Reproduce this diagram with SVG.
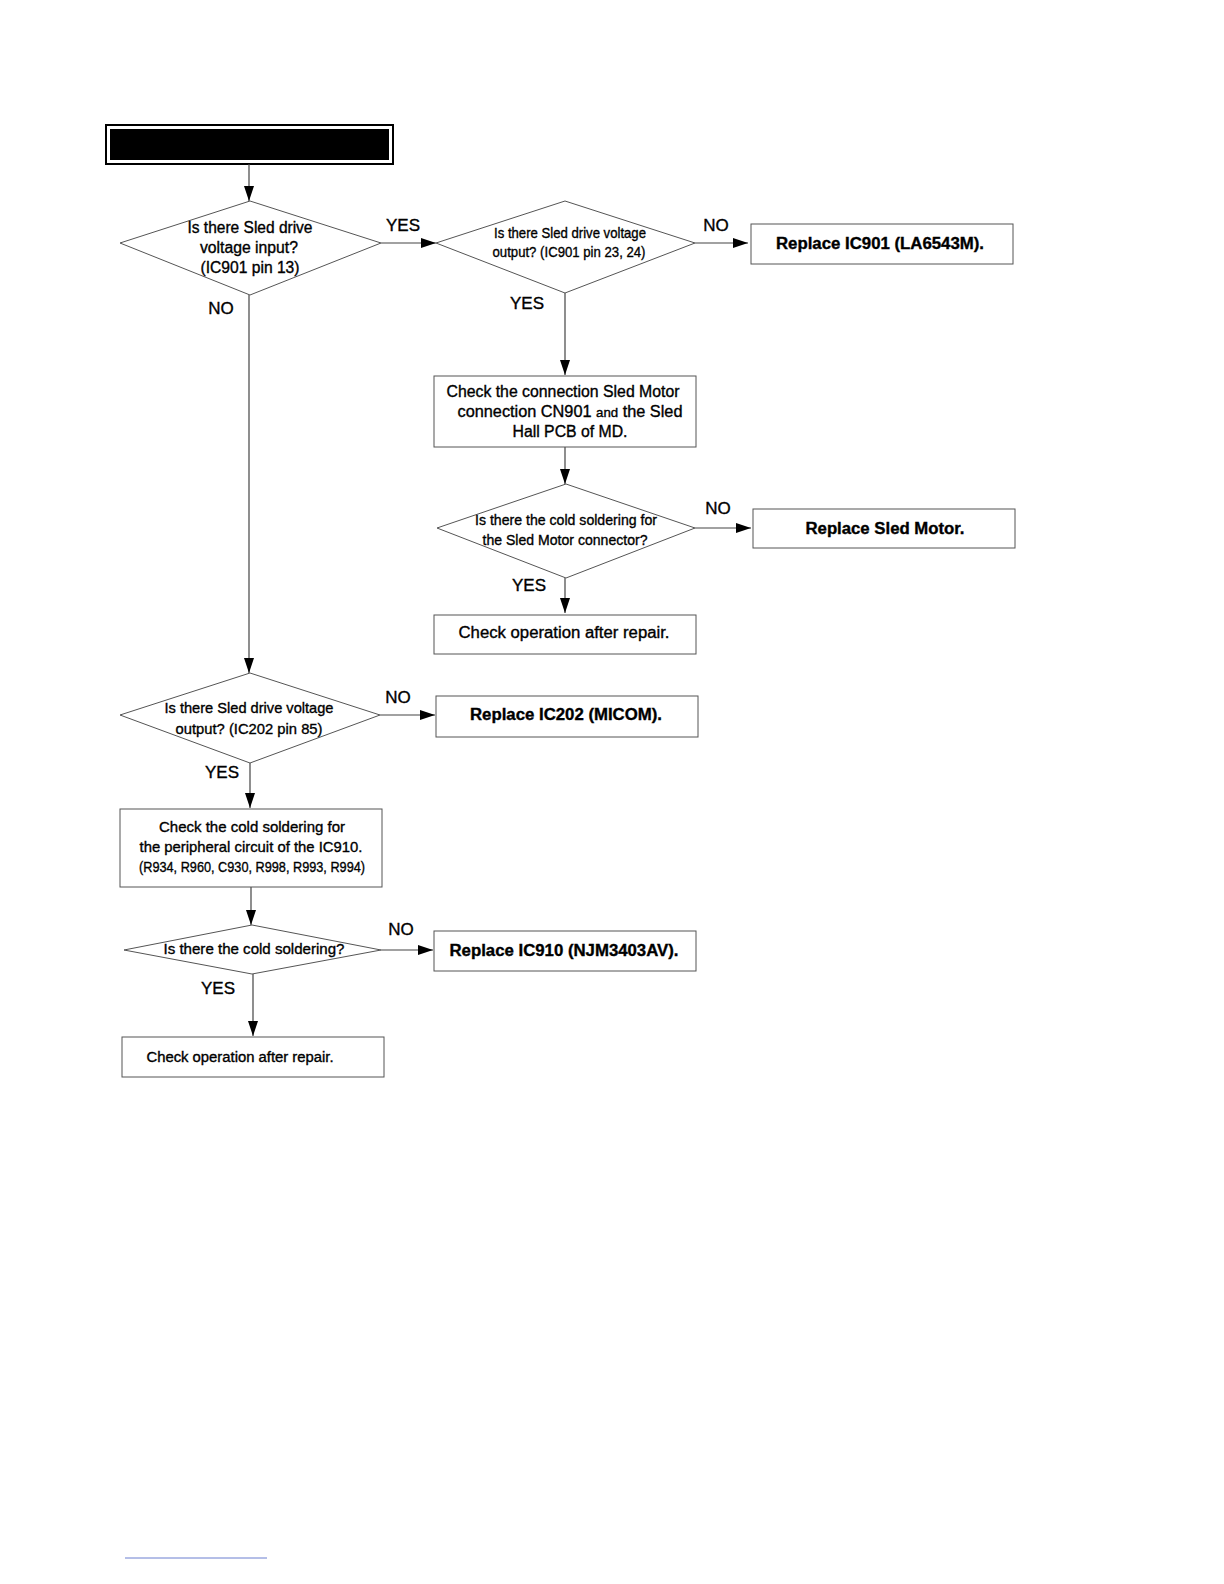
<svg xmlns="http://www.w3.org/2000/svg" width="1224" height="1584" viewBox="0 0 1224 1584">
<style>
.s{fill:#fff;stroke:#555;stroke-width:1}
.c{fill:none;stroke:#444;stroke-width:1.2}
text{font-family:"Liberation Sans",Arial,sans-serif;fill:#000;stroke:#000;stroke-width:0.35;text-anchor:middle}
.t{font-size:16px}
.m{font-size:15px}
.b{font-size:16px;font-weight:bold}
.l{font-size:17px}
</style>
<defs>
<marker id="a" markerWidth="15" markerHeight="10" refX="15" refY="5" orient="auto" markerUnits="userSpaceOnUse">
<path d="M0,0 L15,5 L0,10 Z" fill="#000"/>
</marker>
</defs>
<rect width="1224" height="1584" fill="#fff"/>

<g id="title">
<rect x="106" y="125" width="287" height="39" fill="#fff" stroke="#000" stroke-width="2"/>
<rect x="110" y="129" width="279" height="31" fill="#000"/>
</g>

<g id="connectors">
<line class="c" x1="249" y1="164" x2="249" y2="201" marker-end="url(#a)"/>
<line class="c" x1="381" y1="243" x2="436" y2="243" marker-end="url(#a)"/>
<line class="c" x1="695" y1="243" x2="748" y2="243" marker-end="url(#a)"/>
<line class="c" x1="565" y1="293" x2="565" y2="375" marker-end="url(#a)"/>
<line class="c" x1="565" y1="447" x2="565" y2="484" marker-end="url(#a)"/>
<line class="c" x1="695" y1="528" x2="751" y2="528" marker-end="url(#a)"/>
<line class="c" x1="565" y1="578" x2="565" y2="613" marker-end="url(#a)"/>
<line class="c" x1="249" y1="295" x2="249" y2="673" marker-end="url(#a)"/>
<line class="c" x1="380" y1="715" x2="435" y2="715" marker-end="url(#a)"/>
<line class="c" x1="250" y1="763" x2="250" y2="808" marker-end="url(#a)"/>
<line class="c" x1="251" y1="887" x2="251" y2="925" marker-end="url(#a)"/>
<line class="c" x1="381" y1="950" x2="433" y2="950" marker-end="url(#a)"/>
<line class="c" x1="253" y1="974" x2="253" y2="1036" marker-end="url(#a)"/>
<text class="l" x="403" y="231">YES</text>
<text class="l" x="716" y="231">NO</text>
<text class="l" x="527" y="309">YES</text>
<text class="l" x="718" y="514">NO</text>
<text class="l" x="529" y="591">YES</text>
<text class="l" x="221" y="314">NO</text>
<text class="l" x="398" y="703">NO</text>
<text class="l" x="222" y="778">YES</text>
<text class="l" x="401" y="935">NO</text>
<text class="l" x="218" y="994">YES</text>
</g>

<g id="d1">
<polygon class="s" points="250,201 381,243 250,295 120,243"/>
<text class="t" x="250" y="233" textLength="125" lengthAdjust="spacingAndGlyphs">Is there Sled drive</text>
<text class="t" x="249" y="253" textLength="98" lengthAdjust="spacingAndGlyphs">voltage input?</text>
<text class="t" x="250" y="273" textLength="99" lengthAdjust="spacingAndGlyphs">(IC901 pin 13)</text>
</g>

<g id="d2">
<polygon class="s" points="565,201 695,243 565,293 436,243"/>
<text class="m" x="570" y="238" textLength="152" lengthAdjust="spacingAndGlyphs">Is there Sled drive voltage</text>
<text class="m" x="569" y="257" textLength="153" lengthAdjust="spacingAndGlyphs">output? (IC901 pin 23, 24)</text>
</g>

<g id="r1">
<rect class="s" x="751" y="224" width="262" height="40"/>
<text class="b" x="880" y="249" textLength="208" lengthAdjust="spacingAndGlyphs">Replace IC901 (LA6543M).</text>
</g>

<g id="b1">
<rect class="s" x="434" y="376" width="262" height="71"/>
<text class="t" x="563" y="397" textLength="233" lengthAdjust="spacingAndGlyphs">Check the connection Sled Motor</text>
<text class="t" x="570" y="417" textLength="225" lengthAdjust="spacingAndGlyphs">connection CN901 <tspan font-size="13">and</tspan>  the Sled</text>
<text class="t" x="570" y="437" textLength="115" lengthAdjust="spacingAndGlyphs">Hall PCB of MD.</text>
</g>

<g id="d3">
<polygon class="s" points="566,484 695,528 566,578 437,528"/>
<text class="m" x="566" y="525" textLength="182" lengthAdjust="spacingAndGlyphs">Is there the cold soldering for</text>
<text class="m" x="565" y="545" textLength="165" lengthAdjust="spacingAndGlyphs">the Sled Motor connector?</text>
</g>

<g id="r2">
<rect class="s" x="753" y="509" width="262" height="39"/>
<text class="b" x="885" y="534" textLength="159" lengthAdjust="spacingAndGlyphs">Replace Sled Motor.</text>
</g>

<g id="b2">
<rect class="s" x="434" y="615" width="262" height="39"/>
<text class="t" x="564" y="638" textLength="211" lengthAdjust="spacingAndGlyphs">Check operation after repair.</text>
</g>

<g id="d4">
<polygon class="s" points="250,673 380,715 250,763 120,715"/>
<text class="m" x="249" y="713" textLength="169" lengthAdjust="spacingAndGlyphs">Is there Sled drive voltage</text>
<text class="m" x="249" y="734" textLength="147" lengthAdjust="spacingAndGlyphs">output? (IC202 pin 85)</text>
</g>

<g id="r3">
<rect class="s" x="436" y="696" width="262" height="41"/>
<text class="b" x="566" y="720" textLength="192" lengthAdjust="spacingAndGlyphs">Replace IC202 (MICOM).</text>
</g>

<g id="b3">
<rect class="s" x="120" y="809" width="262" height="78"/>
<text class="m" x="252" y="832" textLength="186" lengthAdjust="spacingAndGlyphs">Check the cold soldering for</text>
<text class="m" x="251" y="852" textLength="223" lengthAdjust="spacingAndGlyphs">the peripheral circuit of the IC910.</text>
<text class="m" x="252" y="872" textLength="226" lengthAdjust="spacingAndGlyphs">(R934, R960, C930, R998, R993, R994)</text>
</g>

<g id="d5">
<polygon class="s" points="252,925 381,950 252,974 124,950"/>
<text class="m" x="254" y="954" textLength="181" lengthAdjust="spacingAndGlyphs">Is there the cold soldering?</text>
</g>

<g id="r4">
<rect class="s" x="434" y="931" width="262" height="40"/>
<text class="b" x="564" y="956" textLength="229" lengthAdjust="spacingAndGlyphs">Replace IC910 (NJM3403AV).</text>
</g>

<g id="b4">
<rect class="s" x="122" y="1037" width="262" height="40"/>
<text x="240" y="1062" font-size="14" textLength="187" lengthAdjust="spacingAndGlyphs">Check operation after repair.</text>
</g>

<line x1="125" y1="1558" x2="267" y2="1558" stroke="#6a7fd0" stroke-width="1"/>
</svg>
